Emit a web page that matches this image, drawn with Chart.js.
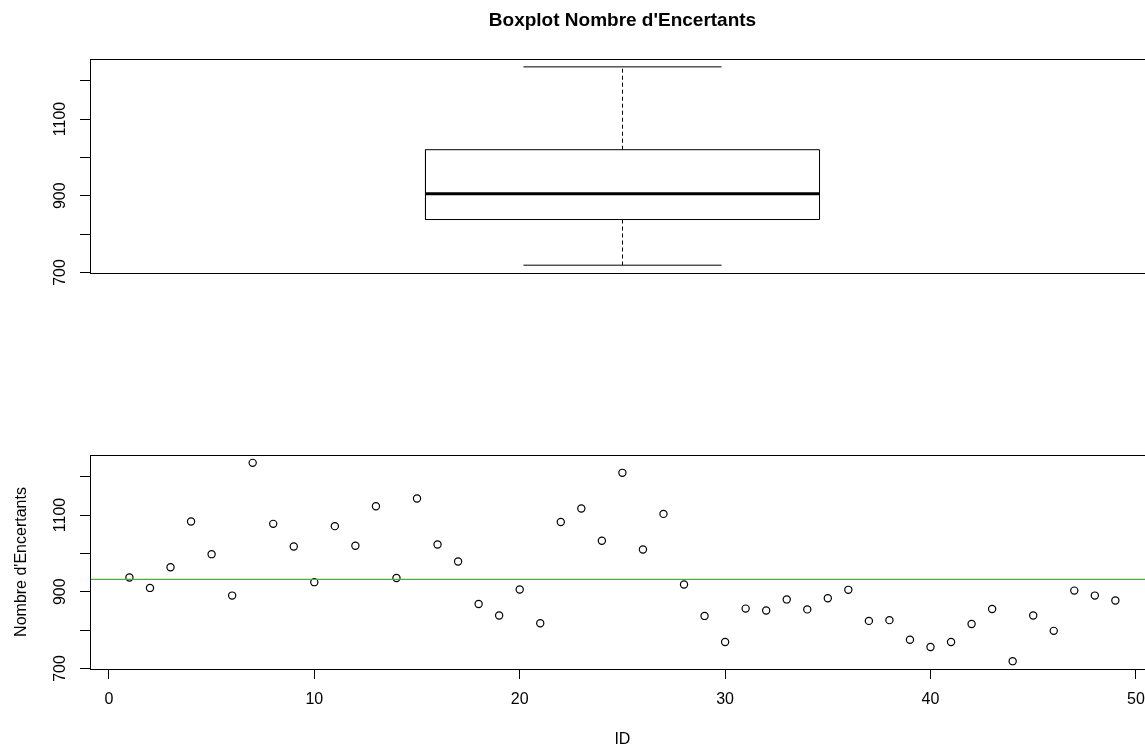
<!DOCTYPE html>
<html><head><meta charset="utf-8">
<script src="https://cdn.jsdelivr.net/npm/chart.js@4.4.1/dist/chart.umd.min.js"></script>
<style>
html,body{margin:0;padding:0;background:#fff;overflow:hidden;width:1145px;height:749px;}
#wrap{position:relative;width:1145px;height:749px;overflow:hidden;background:#fff;}
#c1{position:absolute;left:0;top:0;}
#c2{position:absolute;left:0;top:400px;}
</style></head><body>
<div id="wrap">
<canvas id="c1" width="1160" height="300"></canvas>
<canvas id="c2" width="1160" height="349"></canvas>
</div>
<script>
// ---- data ----
const ids = [1,2,3,4,5,6,7,8,9,10,11,12,13,14,15,16,17,18,19,20,21,22,23,24,25,
             26,27,28,29,30,31,32,33,34,35,36,37,38,39,40,41,42,43,44,45,46,47,48,49];
const encertants = [937,910,964,1083,998,890,1236,1077,1018,925,1071,1020,1123,936,1143,
                    1023,979,868,838,906,818,1082,1117,1033,1210,1010,1103,919,837,769,
                    856,851,880,854,883,905,824,826,775,756,769,816,855,719,838,798,903,890,877];
const meanEncertants = 932;
const boxStats = [719, 838, 905, 1020, 1236]; // lower whisker, Q1, median, Q3, upper whisker
const yLabelValues = [700, 900, 1100];
const yRange = [698.6, 1256.5];
const xRange = [-0.92, 50.92];
const chartTitle = "Boxplot Nombre d'Encertants";
const yTitle = "Nombre d'Encertants";
const xTitle = "ID";

// ---- styles ----
const FONT = "'Liberation Sans', Arial, sans-serif";
const BOX_X = 1, BOX_HALF = 0.185, CAP_HALF = 0.093;
const MEAN_COLOR = '#00e000';

const framePlugin = {
  id: 'frame',
  afterDraw(chart) {
    const {ctx, chartArea: a} = chart;
    ctx.save();
    ctx.strokeStyle = '#000';
    ctx.lineWidth = 1;
    ctx.strokeRect(Math.round(a.left) + 0.5, Math.round(a.top) + 0.5,
                   Math.round(a.right - a.left), Math.round(a.bottom - a.top));
    ctx.restore();
  }
};

function yScale(withTitle) {
  return {
    type: 'linear', position: 'left', min: yRange[0], max: yRange[1],
    afterFit(s) { s.width = 90; },
    grid: {drawOnChartArea: false, drawTicks: true, tickLength: 10, color: '#000', lineWidth: 1},
    border: {display: false},
    ticks: {
      stepSize: 100, includeBounds: false, autoSkip: false,
      minRotation: 90, maxRotation: 90, crossAlign: 'center', padding: 2,
      color: '#000', font: {family: FONT, size: 16},
      callback: (v) => yLabelValues.includes(v) ? String(v) : ''
    },
    title: withTitle
      ? {display: true, text: yTitle, color: '#000', font: {family: FONT, size: 16}, padding: {top: 12, bottom: 0}}
      : {display: false}
  };
}

function seg(points, width, dash) {
  return {
    data: points, showLine: true, borderColor: '#000', borderWidth: width,
    borderDash: dash || [], pointRadius: 0, fill: false, tension: 0
  };
}

const [bMin, bQ1, bMed, bQ3, bMax] = boxStats;

new Chart(document.getElementById('c1'), {
  type: 'scatter',
  data: {
    datasets: [
      seg([{x: BOX_X - BOX_HALF, y: bQ1}, {x: BOX_X + BOX_HALF, y: bQ1}, {x: BOX_X + BOX_HALF, y: bQ3},
           {x: BOX_X - BOX_HALF, y: bQ3}, {x: BOX_X - BOX_HALF, y: bQ1}], 1),
      seg([{x: BOX_X - BOX_HALF, y: bMed}, {x: BOX_X + BOX_HALF, y: bMed}], 3),
      seg([{x: BOX_X, y: bQ3}, {x: BOX_X, y: bMax}], 1, [4, 3]),
      seg([{x: BOX_X, y: bQ1}, {x: BOX_X, y: bMin}], 1, [4, 3]),
      seg([{x: BOX_X - CAP_HALF, y: bMax}, {x: BOX_X + CAP_HALF, y: bMax}], 1),
      seg([{x: BOX_X - CAP_HALF, y: bMin}, {x: BOX_X + CAP_HALF, y: bMin}], 1)
    ]
  },
  options: {
    responsive: false, animation: false, devicePixelRatio: 1,
    layout: {padding: {top: 0, right: 5, left: 0, bottom: 27}},
    plugins: {
      legend: {display: false}, tooltip: {enabled: false},
      title: {display: true, text: chartTitle, fullSize: false, color: '#000',
              font: {family: FONT, size: 19, weight: 'bold'}, padding: {top: 9.6, bottom: 26.6}}
    },
    scales: {
      x: {type: 'linear', min: 0.5, max: 1.5, display: false},
      y: yScale(false)
    }
  },
  plugins: [framePlugin]
});

new Chart(document.getElementById('c2'), {
  type: 'scatter',
  data: {
    datasets: [
      {
        type: 'line',
        data: [{x: xRange[0], y: meanEncertants}, {x: xRange[1], y: meanEncertants}],
        borderColor: MEAN_COLOR, backgroundColor: MEAN_COLOR,
        borderWidth: 1.2, pointRadius: 0, fill: false, tension: 0
      },
      {
        data: ids.map((id, i) => ({x: id, y: encertants[i]})),
        showLine: false, pointStyle: 'circle', pointRadius: 3.6, pointBorderWidth: 1.2,
        pointBackgroundColor: 'rgba(0,0,0,0)', borderColor: '#000', backgroundColor: 'rgba(0,0,0,0)'
      }
    ]
  },
  options: {
    responsive: false, animation: false, devicePixelRatio: 1,
    layout: {padding: {top: 55, right: 5, left: 0, bottom: 0}},
    plugins: {legend: {display: false}, tooltip: {enabled: false}},
    scales: {
      x: {
        type: 'linear', position: 'bottom', min: xRange[0], max: xRange[1],
        afterFit(s) { s.height = 80; },
        grid: {drawOnChartArea: false, drawTicks: true, tickLength: 10, color: '#000'},
        border: {display: false},
        ticks: {stepSize: 10, includeBounds: false, autoSkip: false, maxRotation: 0, padding: 10.7,
                color: '#000', font: {family: FONT, size: 16}},
        title: {display: true, text: xTitle, color: '#000', font: {family: FONT, size: 16}, padding: {top: 0, bottom: 0}}
      },
      y: yScale(true)
    }
  },
  plugins: [framePlugin]
});
</script>
</body></html>
